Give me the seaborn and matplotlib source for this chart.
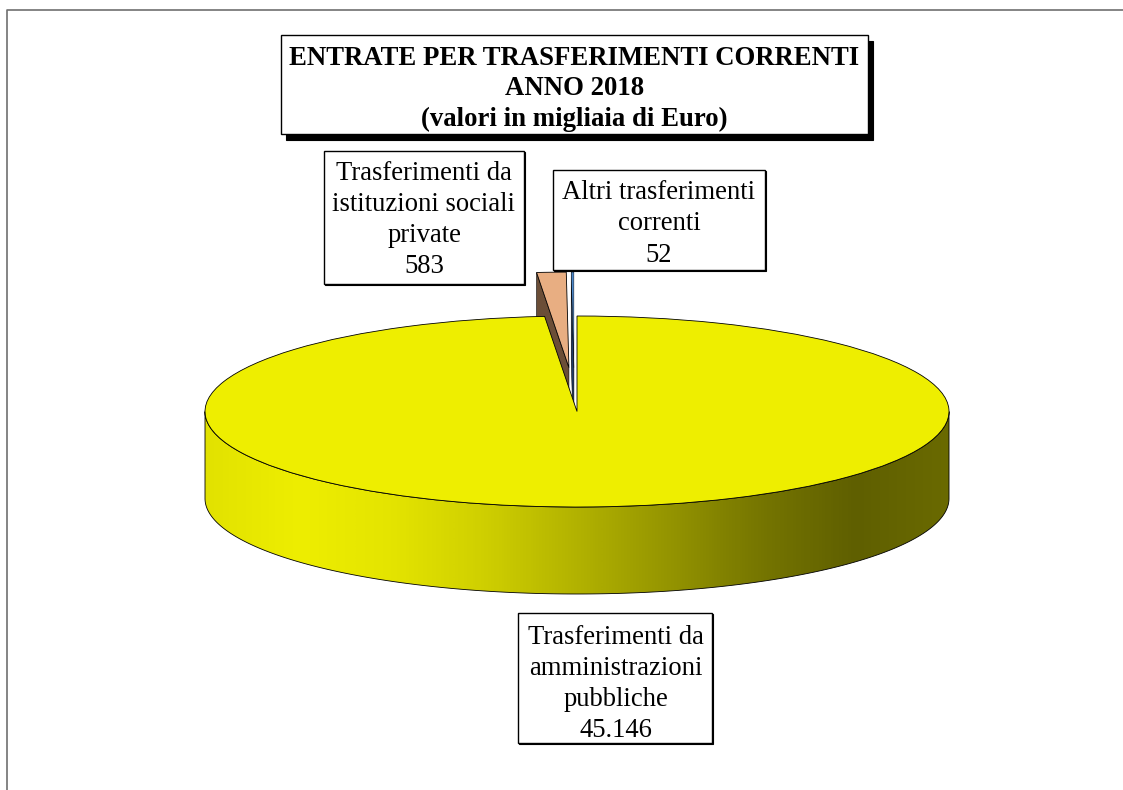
import numpy as np
import seaborn as sns
import matplotlib
matplotlib.use("Agg")
import matplotlib.pyplot as plt
from matplotlib.patches import Polygon, Rectangle

# dati (migliaia di euro)
voci = ["Trasferimenti da\namministrazioni\npubbliche", "Trasferimenti da\nistituzioni sociali\nprivate", "Altri trasferimenti\ncorrenti"]
valori = [45146, 583, 52]
etichette_valori = ["45.146", "583", "52"]
colori = ["#EEEE00", "#E8AE82", "#4A86C8"]
colori_lato = ["#EEEE00", "#6B4E37", "#1F3B66"]
esplosione = [0, 0.46, 0.46]
titolo = "ENTRATE PER TRASFERIMENTI CORRENTI\nANNO 2018\n(valori in migliaia di Euro)"

sfumatura = ["#E2E200", "#EEEE00", "#E4E400", "#CFCF00", "#B2B200", "#949400", "#757500", "#5F5F00", "#6A6A00"]

W, H = 1123, 790
CX, CY, RX, RY = 577, 411.5, 372, 95.5
PROF = 87 / RY

sns.set_theme(style="white")
plt.rcParams["font.family"] = ["Liberation Serif", "DejaVu Serif"]

fig = plt.figure(figsize=(W / 100, H / 100), dpi=100)
ax = fig.add_axes([0, 0, 1, 1])


def px(x, y):
    return x / W, 1 - y / H


def riquadro(x0, y0, x1, y1, ombra):
    ox, oy = ombra
    x, y = px(x0 + ox, y1 + oy)
    fig.add_artist(Rectangle((x, y), (x1 - x0) / W, (y1 - y0) / H, transform=fig.transFigure,
                             fc="black", ec="black", lw=0.8, zorder=5))
    x, y = px(x0, y1)
    fig.add_artist(Rectangle((x, y), (x1 - x0) / W, (y1 - y0) / H, transform=fig.transFigure,
                             fc="white", ec="black", lw=1.0, zorder=6))


# torta: parte da ore 12 in senso orario
wedges, _ = ax.pie(valori, colors=colori, explode=esplosione, startangle=90, counterclock=False,
                   wedgeprops=dict(edgecolor="black", linewidth=0.6))
ax.set_aspect("auto")
wedges[2].set_linewidth(0.3)

# piccolo scostamento della fetta blu come nell'originale
cx_blu, cy_blu = wedges[2].center
wedges[2].set_center((cx_blu - 2.5 / RX, cy_blu))

angoli = 90 - np.cumsum([0] + valori) / sum(valori) * 360

# parete laterale del cilindro con sfumatura
t = np.linspace(np.pi, 2 * np.pi, 300)
bordo = np.r_[np.c_[np.cos(t), np.sin(t)], np.c_[np.cos(t[::-1]), np.sin(t[::-1]) - PROF]]
parete = Polygon(bordo, closed=True, transform=ax.transData, fc="none", ec="black", lw=0.6, zorder=2)
ax.add_patch(parete)
cmap = sns.blend_palette(sfumatura, n_colors=256, as_cmap=True)
img = ax.imshow(np.linspace(0, 1, 744)[None, :], extent=(-1, 1, -1 - PROF, 0), cmap=cmap,
                aspect="auto", zorder=1.5)
img.set_clip_path(parete)

# lati delle fette staccate
for i in (1, 2):
    w = wedges[i]
    a = np.radians(angoli[i])
    c = np.array(w.center)
    rim = c + [np.cos(a), np.sin(a)]
    ax.add_patch(Polygon([c, rim, rim - [0, PROF], c - [0, PROF]], closed=True,
                         fc=colori_lato[i], ec="black", lw=0.4, zorder=0.5))
    w.set_zorder(0.8)
wedges[0].set_zorder(3)

ax.set_xlim(-CX / RX, (W - CX) / RX)
ax.set_ylim(-(H - CY) / RY, CY / RY)
ax.axis("off")

# cornice del grafico
fig.add_artist(plt.Line2D([7 / W, 7 / W, 1], [0, 1 - 10 / H, 1 - 10 / H], transform=fig.transFigure,
                          color="#707070", lw=1.2))

# titolo
riquadro(281, 35, 868, 134, (5, 6))
fig.text(*px(574.5, 89), titolo, ha="center", va="center", fontsize=19.3, fontweight="bold",
         linespacing=1.26, color="black", zorder=7)

# etichette
riquadro(518, 613, 712, 743, (1, 1))
fig.text(*px(616, 684), f"{voci[0]}\n{etichette_valori[0]}", ha="center", va="center", fontsize=19.2,
         linespacing=1.33, color="black", zorder=7)
riquadro(324, 151, 524, 284, (1, 1))
fig.text(*px(424, 220), f"{voci[1]}\n{etichette_valori[1]}", ha="center", va="center", fontsize=19.2,
         linespacing=1.33, color="black", zorder=7)
riquadro(553, 170, 765, 270, (1, 1))
fig.text(*px(659, 224), f"{voci[2]}\n{etichette_valori[2]}", ha="center", va="center", fontsize=19.2,
         linespacing=1.33, color="black", zorder=7)

fig.savefig("out.png", dpi=100, facecolor="white")
plt.close(fig)
